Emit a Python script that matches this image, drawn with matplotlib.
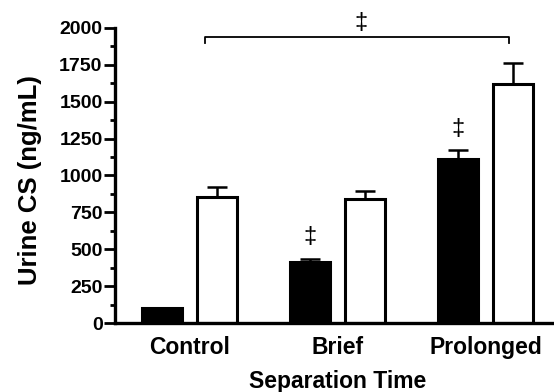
import numpy as np
import matplotlib.pyplot as plt
from matplotlib.ticker import MultipleLocator

plt.rcParams['font.family'] = ['Liberation Sans', 'DejaVu Sans']
plt.rcParams['font.weight'] = 'bold'

# values
groups = ['Control', 'Brief', 'Prolonged']
black_vals = [100, 413, 1115]
black_err = [0, 22, 58]
white_vals = [854, 842, 1622]
white_err = [70, 55, 140]
sig_black = ['', '\u2021', '\u2021']

fig = plt.figure(figsize=(5.54, 3.92), dpi=100)
ax = fig.add_axes([0.2076, 0.176, 0.7924, 0.7526])

x = np.arange(len(groups))
w = 0.27
off = 0.186

ax.bar(x - off, black_vals, w, color='black', edgecolor='black', linewidth=2.2,
       yerr=[np.zeros(3), black_err], capsize=7,
       error_kw=dict(elinewidth=1.8, capthick=1.8, ecolor='black'), zorder=2)
ax.bar(x + off, white_vals, w, color='white', edgecolor='black', linewidth=2.2,
       yerr=[np.zeros(3), white_err], capsize=7,
       error_kw=dict(elinewidth=1.8, capthick=1.8, ecolor='black'), zorder=2)

# significance marks over black bars
for xi, v, e, s in zip(x, black_vals, black_err, sig_black):
    if s:
        ax.text(xi - off, v + e + 145, s, ha='center', va='center', fontsize=17,
                fontweight='normal')

# bracket between control (white) and prolonged (white)
x0, x1 = x[0] + off - 0.08, x[2] + off - 0.03
ax.plot([x0, x0, x1, x1], [1898, 1940, 1940, 1898], color='black', lw=1.3,
        clip_on=False)
ax.text((x0 + x1) / 2 + 0.03, 2036, '\u2021', ha='center', va='center',
        fontsize=17, fontweight='normal', clip_on=False)

ax.set_xlim(-0.5, 2.46)
ax.set_ylim(0, 2000)
ax.yaxis.set_major_locator(MultipleLocator(250))
ax.yaxis.set_minor_locator(MultipleLocator(125))
ax.set_xticks(x)
ax.set_xticklabels(groups, fontsize=16.5, fontweight='bold')
ax.tick_params(axis='x', length=0, pad=9)
ax.tick_params(axis='y', which='major', length=8, width=2, labelsize=14, pad=1)
ax.tick_params(axis='y', which='minor', length=3.5, width=2)
for lab in ax.get_yticklabels():
    lab.set_fontweight('bold')

for side in ['top', 'right']:
    ax.spines[side].set_visible(False)
for side in ['left', 'bottom']:
    ax.spines[side].set_linewidth(2.4)

ax.set_ylabel('Urine CS (ng/mL)', fontsize=18.5, fontweight='bold')
ax.yaxis.set_label_coords(-0.166, 0.485)
ax.set_xlabel('Separation Time', fontsize=16.5, fontweight='bold')
ax.xaxis.set_label_coords(0.507, -0.16)

fig.savefig('out.png', dpi=100)
